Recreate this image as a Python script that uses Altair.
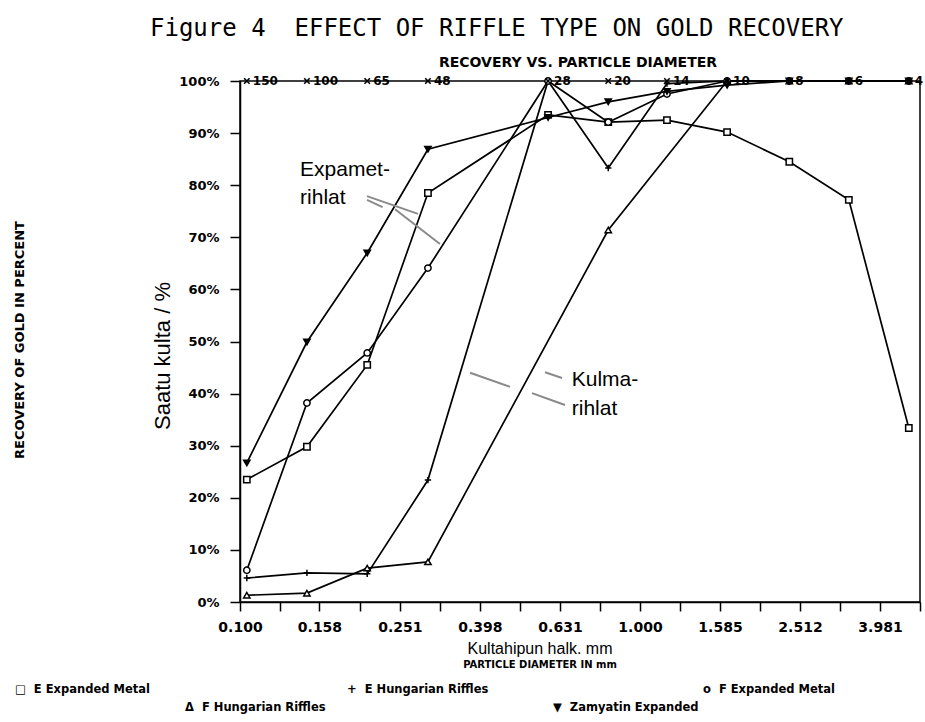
import altair as alt
import pandas as pd

# Sieve openings (mm) and the Tyler mesh numbers printed along the 100 % line
sieve_mm = [0.104, 0.147, 0.208, 0.295, 0.589, 0.833, 1.168, 1.651, 2.362, 3.327, 4.699]
mesh_labels = ["150", "100", "65", "48", "28", "20", "14", "10", "8", "6", "4"]

# Gold recovery (%) for each riffle type at each sieve size (None = not measured)
e_expanded_metal = [23.5, 29.8, 45.5, 78.5, 93.5, 92.1, 92.5, 90.2, 84.5, 77.2, 33.4]
e_hungarian_riffles = [4.6, 5.6, 5.4, 23.4, 100, 83.3, 99.5, 100, 100, 100, 100]
f_expanded_metal = [6.1, 38.2, 47.8, 64.1, 100, 92.1, 97.5, 100, 100, 100, 100]
f_hungarian_riffles = [1.3, 1.7, 6.5, 7.7, None, 71.4, None, 100, 100, 100, 100]
zamyatin_expanded = [26.7, 49.9, 67.0, 86.9, 93.0, 96.0, 98.0, 99.2, 100, 100, 100]

series_names = ["E Expanded Metal", "E Hungarian Riffles", "F Expanded Metal",
                "F Hungarian Riffles", "Zamyatin Expanded"]
series_values = [e_expanded_metal, e_hungarian_riffles, f_expanded_metal,
                 f_hungarian_riffles, zamyatin_expanded]
legend_symbols = ["\u25a1", "+", "o", "\u0394", "\u25bc"]

# Axis labels
x_tick_labels = ["0.100", "0.158", "0.251", "0.398", "0.631", "1.000", "1.585", "2.512", "3.981"]
y_tick_values = [0, 10, 20, 30, 40, 50, 60, 70, 80, 90, 100]

# Finnish annotations and their pointer strokes
note_text = ["Expamet-", "rihlat", "Kulma-", "rihlat"]
note_size = [0.1413, 0.1413, 0.675, 0.675]
note_recovery = [83.0, 77.5, 42.6, 37.0]
pointer_size = [0.2077, 0.2077, 0.2441, 0.3758, 0.537, 0.5788]
pointer_size2 = [0.2786, 0.2272, 0.3162, 0.4732, 0.6494, 0.6383]
pointer_recovery = [77.9, 77.2, 75.4, 44.0, 40.1, 44.1]
pointer_recovery2 = [74.5, 75.8, 68.7, 41.3, 37.8, 43.0]

# ---- tables -------------------------------------------------------------
rows = []
for name, vals in zip(series_names, series_values):
    for s, v in zip(sieve_mm, vals):
        if v is not None:
            rows.append({"series": name, "size": s, "recovery": v})
recovery_df = pd.DataFrame(rows)

mesh_df = pd.DataFrame({"size": sieve_mm, "recovery": [100] * len(sieve_mm),
                        "mesh": mesh_labels})
notes_df = pd.DataFrame({"size": note_size, "recovery": note_recovery, "text": note_text})
pointer_df = pd.DataFrame({"size": pointer_size, "size2": pointer_size2,
                           "recovery": pointer_recovery, "recovery2": pointer_recovery2})

# major labels plus a tick every 0.1 decade
x_major = [float(t) for t in x_tick_labels]
x_ticks = []
for a, b in zip(x_major[:-1], x_major[1:]):
    x_ticks += [a, (a * b) ** 0.5]
x_ticks += [x_major[-1], 10 ** 0.7]
label_list = ",".join(repr(v) for v in x_major)

x_scale = alt.Scale(type="log", domain=[0.1, 10 ** 0.7], nice=False)
y_scale = alt.Scale(domain=[0, 100], nice=False)

x_axis = alt.Axis(values=x_ticks, title=None, grid=False,
                  labelExpr=f"indexof([{label_list}], datum.value) >= 0 ? format(datum.value, '.3f') : ''",
                  labelFont="DejaVu Sans", labelFontWeight="bold", labelFontSize=14,
                  labelPadding=9, tickSize=9, labelFlush=False, labelOverlap=False)
y_axis = alt.Axis(values=y_tick_values, title=None, grid=False,
                  labelExpr="datum.value + '%'",
                  labelFont="DejaVu Sans", labelFontWeight="bold", labelFontSize=13,
                  labelPadding=11, tickSize=10, labelOverlap=False)

X = alt.X("size:Q", scale=x_scale, axis=x_axis)
Y = alt.Y("recovery:Q", scale=y_scale, axis=y_axis)

lines = alt.Chart(recovery_df).mark_line(color="black", strokeWidth=1.7).encode(
    x=X, y=Y, detail="series:N", order="size:Q")

marker_shapes = ["square", "M-1,0L1,0M0,-1L0,1", "circle", "triangle-up", "triangle-down"]
marker_fills = ["white", "black", "white", "white", "black"]
points = alt.Chart(recovery_df).mark_point(
    filled=True, stroke="black", strokeWidth=1.5, size=40, opacity=1).encode(
    x=X, y=Y,
    shape=alt.Shape("series:N", scale=alt.Scale(domain=series_names, range=marker_shapes), legend=None),
    fill=alt.Fill("series:N", scale=alt.Scale(domain=series_names, range=marker_fills), legend=None))

mesh_marks = alt.Chart(mesh_df).mark_point(
    shape="M-1,-1L1,1M-1,1L1,-1", stroke="black", strokeWidth=1.6, size=30, opacity=1).encode(x=X, y=Y)
mesh_text = alt.Chart(mesh_df).mark_text(
    align="left", baseline="middle", dx=6, font="DejaVu Sans", fontWeight="bold",
    fontSize=12, color="black").encode(x=X, y=Y, text="mesh:N")

pointers = alt.Chart(pointer_df).mark_rule(color="#8a8a8a", strokeWidth=2).encode(
    x=X, y=Y, x2="size2:Q", y2="recovery2:Q")
notes = alt.Chart(notes_df).mark_text(
    align="left", baseline="middle", font="Liberation Sans", fontSize=21,
    color="black").encode(x=X, y=Y, text="text:N")


def label(text, x, y, size, weight="normal", font="DejaVu Sans", align="left", angle=0):
    return alt.Chart(pd.DataFrame({"t": [text]})).mark_text(
        align=align, baseline="middle", fontSize=size, fontWeight=weight, font=font,
        angle=angle, color="black").encode(text="t:N", x=alt.value(x), y=alt.value(y))


texts = [
    label("Figure 4\u00a0\u00a0EFFECT OF RIFFLE TYPE ON GOLD RECOVERY", -90, -52, 24,
          font="DejaVu Sans Mono"),
    label("RECOVERY VS. PARTICLE DIAMETER", 338, -18, 14, weight="bold", align="center"),
    label("Saatu kulta / %", -77, 275, 22, font="Liberation Sans", align="center", angle=270),
    label("RECOVERY OF GOLD IN PERCENT", -220, 259, 13, weight="bold", align="center", angle=270),
    label("Kultahipun halk. mm", 300, 568, 16, font="Liberation Sans", align="center"),
    label("PARTICLE DIAMETER IN mm", 300, 584, 10, weight="bold", align="center"),
]
legend_pos = [(-225, 609), (107, 609), (463, 609), (-55, 627), (313, 627)]
for sym, name, (lx, ly) in zip(legend_symbols, series_names, legend_pos):
    texts.append(label(f"{sym}\u00a0 {name}", lx, ly, 11.5, weight="bold"))

chart = alt.layer(lines, points, mesh_marks, mesh_text, pointers, notes, *texts).properties(
    width=680, height=521,
    autosize=alt.AutoSizeParams(type="none"),
    padding={"left": 240, "top": 81, "right": 5, "bottom": 120},
    background="white",
).configure_view(stroke="black", strokeWidth=1.5).configure_axis(
    domainColor="black", tickColor="black", labelColor="black", domainWidth=1.5, tickWidth=1.5)

chart.save("out.html", embed_options={"renderer": "svg", "actions": False})
